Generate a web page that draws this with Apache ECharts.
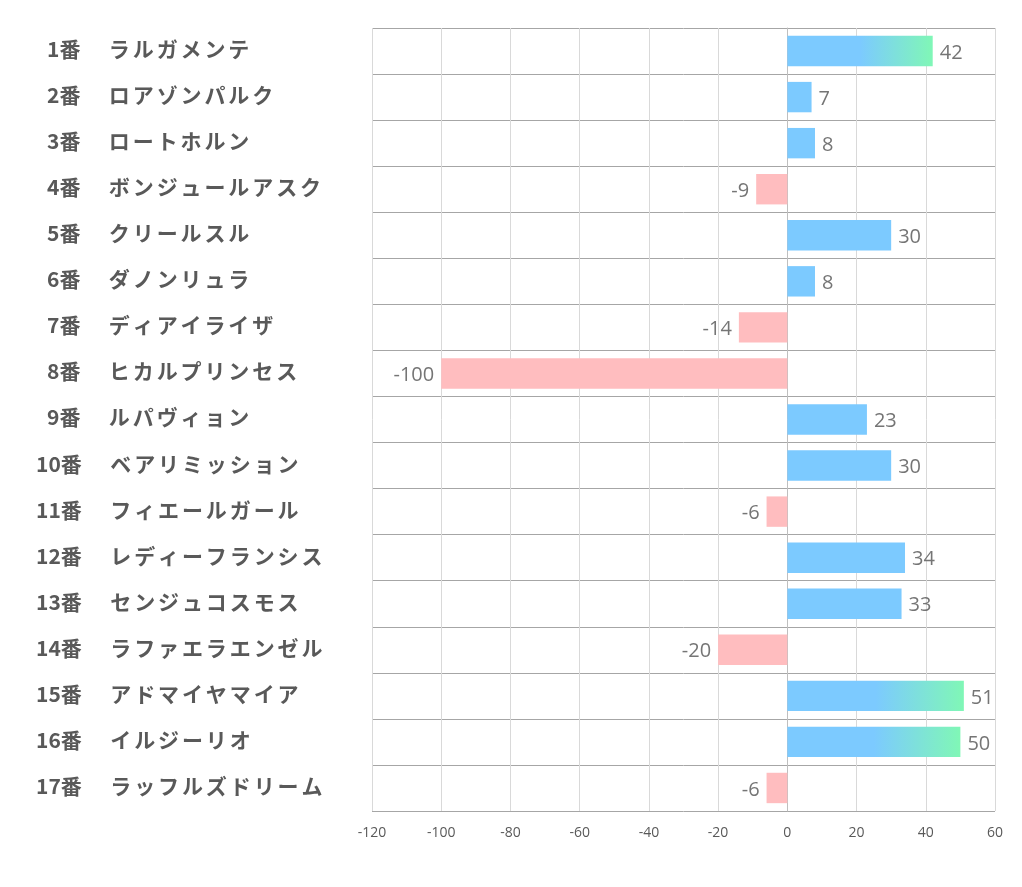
<!DOCTYPE html>
<html><head><meta charset="utf-8">
<script src="https://cdn.jsdelivr.net/npm/echarts@6/dist/echarts.min.js"></script>
<style>html,body{margin:0;padding:0;background:#fff}#c{width:1022px;height:887px}</style>
</head><body><div id="c"></div>
<script>
const numbers = ['1番','2番','3番','4番','5番','6番','7番','8番','9番','10番','11番','12番','13番','14番','15番','16番','17番'];
const names = ['ラルガメンテ','ロアゾンパルク','ロートホルン','ボンジュールアスク','クリールスル','ダノンリュラ','ディアイライザ','ヒカルプリンセス','ルパヴィョン','ベアリミッション','フィエールガール','レディーフランシス','センジュコスモス','ラファエラエンゼル','アドマイヤマイア','イルジーリオ','ラッフルズドリーム'];
const values = [42,7,8,-9,30,8,-14,-100,23,30,-6,34,33,-20,51,50,-6];
const xTicks = [-120,60,20];

const BLUE='#7ccaff', PINK='#ffbdbf', GREEN='#80f7b6';
const cats = numbers.map((n,i)=>n+'|'+names[i]);
const data = values.map(v=>{
  let color;
  if (v<0) color=PINK;
  else if (v>=40) color=new echarts.graphic.LinearGradient(0,0,1,0,[{offset:0,color:BLUE},{offset:0.5,color:BLUE},{offset:1,color:GREEN}]);
  else color=BLUE;
  return {value:v,itemStyle:{color},label:{position:v<0?'left':'right'}};
});
const FONT='Noto Sans CJK JP';
const base={fontSize:21,fontWeight:'bold',color:'#595959',fontFamily:FONT,padding:[0,0,4,0]};
const chart = echarts.init(document.getElementById('c'));
chart.setOption({
  animation:false,
  backgroundColor:'#fff',
  grid:{left:372,right:27,top:28,bottom:76,containLabel:false},
  xAxis:{type:'value',min:xTicks[0],max:xTicks[1],interval:xTicks[2],
    axisLine:{show:false},axisTick:{show:false},
    splitLine:{show:true,lineStyle:{color:'#d9d9d9',width:1}},
    axisLabel:{color:'#595959',fontSize:14,fontFamily:'Open Sans, sans-serif',margin:15}},
  yAxis:{type:'category',inverse:true,data:cats,
    axisLine:{show:true,lineStyle:{color:'#bfbfbf'}},axisTick:{show:false},
    splitLine:{show:true,lineStyle:{color:'#a6a6a6',width:1}},
    axisLabel:{align:'left',margin:336,
      formatter:(s)=>{const p=s.split('|');const d=p[0].replace('番','');
        return '{s'+(d.length)+'|}{d|'+d+'}{n|番}{g|}'+Array.from(p[1]).map(ch=>'{c|'+ch+'}').join('');},
      rich:{s1:{width:11},s2:{width:0},
            d:Object.assign({},base),
            n:Object.assign({},base),
            g:{width:27},
            c:Object.assign({width:23.9,align:'center'},base)}}},
  series:[{type:'bar',data,barWidth:'66%',
    label:{show:true,color:'#757575',fontSize:20,fontFamily:'Open Sans, sans-serif',distance:7,offset:[0,2]}}]
});
</script></body></html>
